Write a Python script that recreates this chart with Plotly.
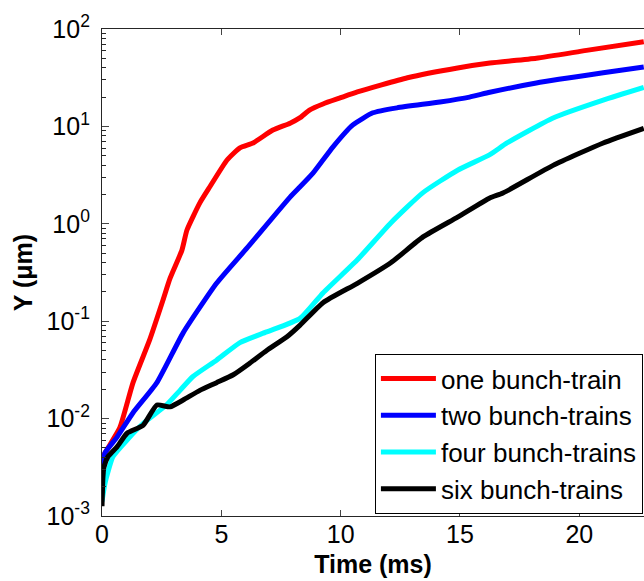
import plotly.graph_objects as go

# ---- data ----
t_one = [0, 0.04, 0.25, 0.75, 1.3, 2.0, 2.56, 2.85, 3.35, 3.56, 4.1, 4.52, 5.24, 5.78, 6.33,
         7.16, 7.88, 8.3, 8.71, 9.26, 10.0, 10.7, 12.8, 14.9, 16.25, 18.2, 20.3, 22.7]
y_one = [0.003, 0.00404, 0.0050, 0.0081, 0.0234, 0.0646, 0.166, 0.275, 0.537, 0.863, 1.64, 2.40,
         4.52, 6.03, 6.76, 9.18, 10.8, 12.3, 14.8, 17.0, 19.7, 22.6, 31.6, 39.8, 44.7, 50.1,
         60.3, 74.1]

t_two = [0, 0.13, 0.63, 1.3, 2.3, 3.4, 4.8, 6.07, 7.88, 8.3, 8.84, 9.68, 10.5, 11.35, 12.36,
         14.16, 15.4, 16.25, 18.2, 21, 22.7]
y_two = [0.00316, 0.00447, 0.00646, 0.0115, 0.0234, 0.0759, 0.245, 0.562, 1.88, 2.40, 3.31, 6.17,
         10.3, 13.8, 15.5, 17.8, 20.0, 22.4, 27.9, 35.5, 40.7]

t_four = [0, 0.13, 0.46, 1.05, 1.72, 2.7, 3.27, 3.8, 4.8, 5.78, 6.9, 8.3, 9.26, 10.7, 12.1,
          13.45, 14.9, 16.25, 16.97, 18.9, 21, 22.7]
y_four = [0.00141, 0.00219, 0.00407, 0.00603, 0.00891, 0.0138, 0.0195, 0.0269, 0.0398, 0.0603,
          0.0776, 0.107, 0.195, 0.427, 1.02, 2.09, 3.55, 5.13, 6.76, 12.2, 18.6, 25.1]

t_six = [0, 0.04, 0.08, 0.25, 0.63, 1.05, 1.72, 2.3, 2.85, 3.4, 4.1, 4.8, 5.5, 6.2, 6.9, 7.75,
         8.3, 9.26, 10.7, 12.1, 13.45, 14.9, 16.25, 16.8, 18.9, 21, 22.7]
y_six = [0.00126, 0.00251, 0.00316, 0.00407, 0.00513, 0.00708, 0.00851, 0.0138, 0.0132, 0.0155,
         0.0195, 0.0234, 0.0282, 0.0372, 0.0501, 0.0692, 0.0912, 0.155, 0.245, 0.398, 0.733, 1.17,
         1.84, 2.07, 3.98, 6.76, 9.55]

series_names = ["one bunch-train", "two bunch-trains", "four bunch-trains", "six bunch-trains"]
series_colors = ["#FF0000", "#0000FF", "#00FFFF", "#000000"]

x_ticks = [0, 5, 10, 15, 20]
y_tickvals = [1e-3, 1e-2, 1e-1, 1e0, 1e1, 1e2]
y_ticktext = ["10<sup>-3</sup>", "10<sup>-2</sup>", "10<sup>-1</sup>",
              "10<sup>0</sup>", "10<sup>1</sup>", "10<sup>2</sup>"]
y_minor = [m * 10 ** e for e in range(-3, 2) for m in range(2, 10)]

FONT = "Liberation Sans, Arial, sans-serif"

fig = go.Figure()
for tx, ty, nm, col in zip([t_one, t_two, t_four, t_six], [y_one, y_two, y_four, y_six],
                           series_names, series_colors):
    fig.add_trace(go.Scatter(x=tx, y=ty, mode="lines", name=nm,
                             line=dict(color=col, width=5, shape="spline", smoothing=0.5)))

fig.update_layout(
    width=644, height=581,
    margin=dict(l=102, r=0, t=29, b=65, autoexpand=False),
    paper_bgcolor="white", plot_bgcolor="white",
    font=dict(family=FONT, color="black", size=24),
    showlegend=True,
    legend=dict(x=0.998, xanchor="right", y=0.004, yanchor="bottom",
                bordercolor="black", borderwidth=1, bgcolor="white",
                font=dict(size=26, family=FONT), itemwidth=55,
                tracegroupgap=0),
    xaxis=dict(range=[0, 22.71], tickvals=x_ticks, ticks="inside", ticklen=6,
               showline=True, linecolor="#262626", linewidth=1.2, mirror="ticks",
               showgrid=False, zeroline=False, automargin=False,
               tickfont=dict(size=25), ticklabelstandoff=-4,
               title=dict(text="<b>Time (ms)</b>", font=dict(size=25), standoff=8)),
    yaxis=dict(type="log", range=[-3, 2], tickvals=y_tickvals, ticktext=y_ticktext,
               ticks="inside", ticklen=7, showline=True, linecolor="#262626", linewidth=1.2,
               showgrid=False, zeroline=False, automargin=False, tickfont=dict(size=25),
               ticklabelstandoff=6,
               minor=dict(tickvals=y_minor, ticks="inside", ticklen=4, tickcolor="#262626",
                          showgrid=False),
               title=dict(text="<b>Y (μm)</b>", font=dict(size=25), standoff=6)),
)

fig.write_html(
    "out.html",
    config={"displayModeBar": False},
    post_script="document.body.style.margin='0';document.body.style.overflow='hidden';",
)
